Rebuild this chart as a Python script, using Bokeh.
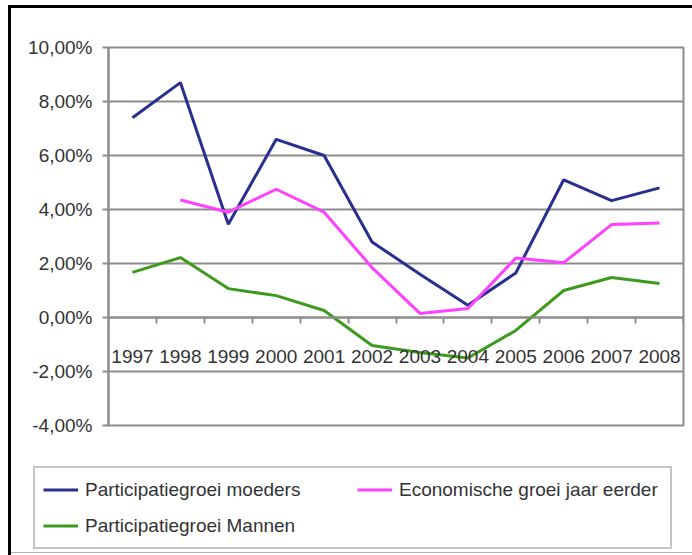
from bokeh.plotting import figure
from bokeh.layouts import column
from bokeh.models import FixedTicker, Legend, LegendItem
from bokeh.embed import file_html
from bokeh.resources import INLINE

years = [1997, 1998, 1999, 2000, 2001, 2002, 2003, 2004, 2005, 2006, 2007, 2008]
moeders = [7.4, 8.7, 3.45, 6.6, 6.0, 2.8, 1.6, 0.45, 1.65, 5.1, 4.33, 4.8]
econ_years = [1998, 1999, 2000, 2001, 2002, 2003, 2004, 2005, 2006, 2007, 2008]
economische = [4.35, 3.9, 4.75, 3.9, 1.85, 0.15, 0.33, 2.2, 2.03, 3.44, 3.5]
mannen = [1.67, 2.22, 1.07, 0.81, 0.26, -1.04, -1.3, -1.5, -0.48, 1.0, 1.48, 1.26]
y_ticks = [-4, -2, 0, 2, 4, 6, 8, 10]
y_tick_labels = ["-4,00%", "-2,00%", "0,00%", "2,00%", "4,00%", "6,00%", "8,00%", "10,00%"]
series_names = ["Participatiegroei moeders", "Economische groei jaar eerder", "Participatiegroei Mannen"]

FONT = "Liberation Sans"
GRID = "#8c8c8c"
TXT = "#333333"
C_BLUE, C_PINK, C_GREEN = "#27308f", "#ff40ff", "#3c9a1c"

p = figure(width=692, height=460, x_range=(years[0] - 0.5, years[-1] + 0.5),
           y_range=(y_ticks[0], y_ticks[-1]),
           output_backend="svg", toolbar_location=None,
           min_border_left=108, min_border_right=9, min_border_top=47, min_border_bottom=35)
p.background_fill_color = "white"
p.border_fill_alpha = 0
p.outline_line_color = GRID
p.outline_line_width = 2

p.xgrid.visible = False
p.ygrid.grid_line_color = GRID
p.ygrid.grid_line_width = 2
p.ygrid.ticker = FixedTicker(ticks=y_ticks)

# y axis
p.yaxis.ticker = FixedTicker(ticks=y_ticks)
p.yaxis.major_label_overrides = dict(zip(y_ticks, y_tick_labels))
p.yaxis.axis_line_color = GRID
p.yaxis.axis_line_width = 2
p.yaxis.major_tick_line_color = GRID
p.yaxis.major_tick_line_width = 2
p.yaxis.major_tick_out = 6
p.yaxis.major_tick_in = 0
p.yaxis.minor_tick_line_color = None
p.yaxis.major_label_standoff = 10
p.yaxis.major_label_text_font = FONT
p.yaxis.major_label_text_font_size = "19px"
p.yaxis.major_label_text_color = TXT

# x axis crossing at 0
boundaries = [years[0] - 0.5] + [y + 0.5 for y in years]
xaxis = p.xaxis[0]
xaxis.fixed_location = 0
xaxis.ticker = FixedTicker(ticks=years, minor_ticks=boundaries)
xaxis.axis_line_color = GRID
xaxis.axis_line_width = 2
xaxis.major_tick_line_color = None
xaxis.major_tick_out = 0
xaxis.major_tick_in = 0
xaxis.minor_tick_line_color = GRID
xaxis.minor_tick_line_width = 2
xaxis.minor_tick_out = 6
xaxis.minor_tick_in = 0
xaxis.major_label_standoff = 26
xaxis.major_label_text_font = FONT
xaxis.major_label_text_font_size = "19px"
xaxis.major_label_text_color = TXT

p.line(years, moeders, line_color=C_BLUE, line_width=3)
p.line(econ_years, economische, line_color=C_PINK, line_width=3)
p.line(years, mannen, line_color=C_GREEN, line_width=3)

# legend panel (its own plot below the chart)
q = figure(width=692, height=95, x_range=(0, 1), y_range=(0, 1),
           output_backend="svg", toolbar_location=None,
           x_axis_location=None, y_axis_location=None,
           min_border_left=0, min_border_right=0, min_border_top=0, min_border_bottom=0)
q.grid.visible = False
q.outline_line_color = None
q.background_fill_alpha = 0
q.border_fill_alpha = 0
l1 = q.line(years, moeders, line_color=C_BLUE, line_width=3)
l2 = q.line(econ_years, economische, line_color=C_PINK, line_width=3)
l3 = q.line(years, mannen, line_color=C_GREEN, line_width=3)

legend = Legend(items=[
    LegendItem(label=series_names[0], renderers=[l1]),
    LegendItem(label=series_names[2], renderers=[l3]),
    LegendItem(label=series_names[1], renderers=[l2]),
], location=(33, 6), nrows=2)
legend.label_text_font = FONT
legend.label_text_font_size = "19px"
legend.label_text_color = TXT
legend.border_line_color = GRID
legend.border_line_width = 2
legend.background_fill_color = "white"
legend.background_fill_alpha = 1
legend.glyph_width = 35
legend.glyph_height = 27
legend.label_height = 27
legend.label_width = 263
legend.label_standoff = 7
legend.spacing = 9
legend.padding = 8
legend.margin = 0
q.add_layout(legend, "center")

BG = ("linear-gradient(#000,#000) 8px 5px / 3px 600px no-repeat, "
      "linear-gradient(#000,#000) 8px 5px / 700px 3px no-repeat, "
      "linear-gradient(#b0b0b0,#b0b0b0) 11px 552px / 700px 1px no-repeat, white")

if "frame_align" in q.properties():
    p.frame_align = False
    q.frame_align = False
    root = column(p, q, spacing=0)
    root.styles = {"background": BG}
    open("out.html", "w").write(file_html(root, INLINE))
else:
    p.styles = {"background": BG}
    q.styles = {"background": "linear-gradient(#000,#000) 8px 0px / 3px 200px no-repeat, "
                               "linear-gradient(#b0b0b0,#b0b0b0) 11px 92px / 700px 1px no-repeat, white"}
    open("out.html", "w").write(file_html([p, q], INLINE))
